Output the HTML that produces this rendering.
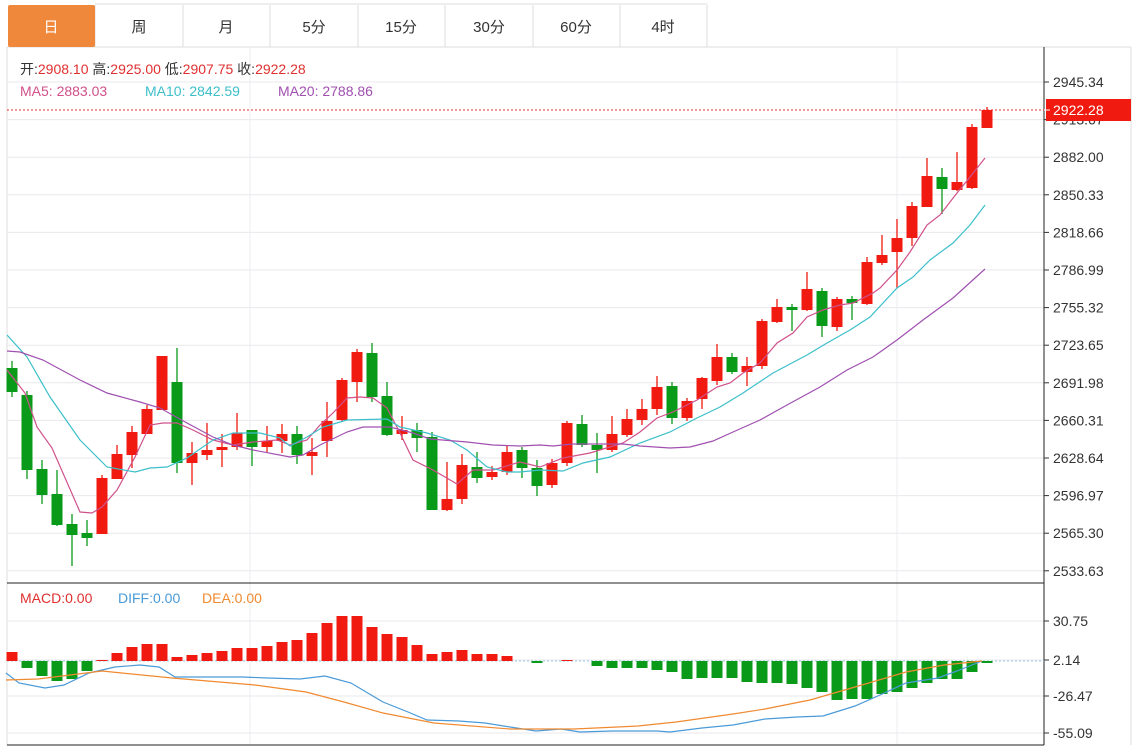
<!DOCTYPE html>
<html><head><meta charset="utf-8">
<style>
body{margin:0;background:#fff;width:1142px;height:749px;overflow:hidden;font-family:"Liberation Sans","Noto Sans CJK SC",sans-serif;}
svg{position:absolute;left:0;top:0}
</style></head><body>
<svg id="s" width="1142" height="749" xmlns="http://www.w3.org/2000/svg" font-family="Liberation Sans, Noto Sans CJK SC, sans-serif">
<rect x="0" y="0" width="1142" height="749" fill="#fff"/>
<!-- tabs -->
<g stroke="#dcdcdc" fill="none">
<line x1="7" y1="47" x2="1131" y2="47"/>
<line x1="95" y1="5" x2="95" y2="47"/><line x1="183" y1="5" x2="183" y2="47"/><line x1="270" y1="5" x2="270" y2="47"/>
<line x1="358" y1="5" x2="358" y2="47"/><line x1="445" y1="5" x2="445" y2="47"/><line x1="533" y1="5" x2="533" y2="47"/>
<line x1="620" y1="5" x2="620" y2="47"/><line x1="707" y1="5" x2="707" y2="47"/>
<line x1="95" y1="4" x2="707" y2="4"/>
<line x1="7" y1="47" x2="7" y2="745"/><line x1="1131" y1="47" x2="1131" y2="745"/>
</g>
<rect x="8" y="5" width="87" height="42" rx="2" fill="#f0883c"/>
<g font-size="15" fill="#333" text-anchor="middle">
<text x="51" y="32" fill="#fff">日</text><text x="139" y="32">周</text><text x="226" y="32">月</text>
<text x="314" y="32">5分</text><text x="401" y="32">15分</text><text x="489" y="32">30分</text>
<text x="576" y="32">60分</text><text x="663" y="32">4时</text>
</g>
<!-- grid -->
<g id="grid" stroke="#e8e8ee" stroke-width="1"></g>
<line x1="250" y1="47" x2="250" y2="745" stroke="#e8ecf0"/>
<line x1="897" y1="47" x2="897" y2="745" stroke="#e8ecf0"/>
<line x1="7" y1="583" x2="1044" y2="583" stroke="#222"/>
<line x1="7" y1="745" x2="1044" y2="745" stroke="#222"/>
<line x1="1044" y1="47" x2="1044" y2="745" stroke="#222"/>
<!-- header text -->
<g font-size="14">
<text x="20" y="74" fill="#333">开:<tspan fill="#e03030">2908.10</tspan>  高:<tspan fill="#e03030">2925.00</tspan>  低:<tspan fill="#e03030">2907.75</tspan>  收:<tspan fill="#e03030">2922.28</tspan></text>
<text x="20" y="96" fill="#d0508a">MA5: 2883.03</text>
<text x="145" y="96" fill="#3cbfca">MA10: 2842.59</text>
<text x="278" y="96" fill="#a050b0">MA20: 2788.86</text>
<text x="20" y="603" fill="#e03030">MACD:0.00</text>
<text x="118" y="603" fill="#4a9ad8">DIFF:0.00</text>
<text x="202" y="603" fill="#f08a30">DEA:0.00</text>
</g>
<g id="axis" font-size="14" fill="#333"></g>
<line x1="7" y1="110" x2="1044" y2="110" stroke="#e03030" stroke-dasharray="2,2"/>
<line x1="7" y1="661" x2="1044" y2="661" stroke="#9cc8e8" stroke-dasharray="2,2"/>
<g id="c"></g>
<polyline fill="none" stroke="#d0508a" stroke-width="1.2" points="7,370 25,393 37,427 52,448 80,512 92,513 102,507 117,490 135,457 150,425 163,423 177,423 193,430 213,440 233,445 253,442 277,440 290,445 307,440 320,425 333,413 347,398 360,397 373,398 387,408 400,433 413,460 433,470 457,484 473,470 493,470 520,462 540,467 563,458 590,453 623,443 640,432 657,418 673,412 697,400 717,387 730,383 743,373 760,363 777,343 793,333 807,317 823,310 840,305 853,303 873,293 880,288 897,270 910,252 927,225 940,215 957,193 970,177 985,158"/>
<polyline fill="none" stroke="#3cbfca" stroke-width="1.2" points="7,335 27,357 50,397 80,440 107,467 135,472 150,468 167,467 187,458 213,440 233,433 260,433 280,438 290,446 307,437 323,427 347,420 387,419 400,427 427,433 450,440 467,450 487,467 507,472 520,472 540,470 563,471 583,463 610,457 640,443 670,432 697,418 720,407 743,393 773,373 807,355 827,343 850,330 870,317 897,288 913,277 930,260 953,243 970,225 985,205"/>
<polyline fill="none" stroke="#a050b0" stroke-width="1.2" points="7,351 20,352 43,360 80,380 107,393 140,402 160,408 187,423 213,437 233,445 253,450 290,457 303,455 320,445 347,432 363,427 390,427 413,433 430,439 467,442 493,445 520,446 540,445 553,446 573,444 623,444 640,446 670,448 690,447 713,441 733,432 760,420 787,405 820,387 847,370 873,357 897,340 923,320 953,298 985,269"/>
<polyline fill="none" stroke="#4a9ad8" stroke-width="1.2" points="6,673 19,683 45,688 64,685 89,673 115,667 140,665 159,667 175,677 242,677 268,678 300,679 325,676 351,683 383,702 408,712 427,720 459,721 485,723 510,727 536,731 561,729 580,732 612,731 657,731 670,732 702,728 733,725 765,719 797,717 823,716 855,706 880,695 906,683 938,678 957,671 982,661"/>
<polyline fill="none" stroke="#f08a30" stroke-width="1.2" points="6,680 38,679 102,671 172,678 255,685 306,692 344,702 383,713 434,723 510,729 574,729 638,726 676,722 733,714 765,709 810,700 855,687 906,672 944,665 982,661"/>
<rect x="1046" y="99" width="85" height="22" fill="#f01a10"/>
<line x1="1044" y1="110" x2="1050" y2="110" stroke="#fff"/>
<text x="1053" y="115" font-size="14" fill="#fff">2922.28</text>
</svg>
<script>
var NS="http://www.w3.org/2000/svg",g=document.getElementById('grid'),ax=document.getElementById('axis'),cg=document.getElementById('c');
function el(p,t,a){var e=document.createElementNS(NS,t);for(var k in a)e.setAttribute(k,a[k]);p.appendChild(e);return e;}
var labs=["2945.34","2913.67","2882.00","2850.33","2818.66","2786.99","2755.32","2723.65","2691.98","2660.31","2628.64","2596.97","2565.30","2533.63"];
for(var i=0;i<labs.length;i++){var y=82+i*37.6;el(g,'line',{x1:7,y1:y,x2:1044,y2:y});el(ax,'line',{x1:1044,y1:y,x2:1049,y2:y,stroke:'#333'});
if(i!=1){var t=el(ax,'text',{x:1053,y:y+5});t.textContent=labs[i];}else{var t=el(ax,'text',{x:1053,y:y+5});t.textContent=labs[i];}}
var ml=[["30.75",621],["2.14",660],["-26.47",696],["-55.09",733]];
ml.forEach(function(m){el(g,'line',{x1:7,y1:m[1],x2:1044,y2:m[1]});el(ax,'line',{x1:1044,y1:m[1],x2:1049,y2:m[1],stroke:'#333'});var t=el(ax,'text',{x:1053,y:m[1]+5});t.textContent=m[0];});
// candles: [type, bodyTop, bodyBot, high, low]
var C=[["g",368,392,361,397],["g",395,470,391,479],["g",469,495,460,504],["g",494,525,470,526],["g",524,535,514,566],["g",533,538,520,546],["r",478,534,475,534],["r",454,479,445,479],["r",432,455,426,468],["r",409,434,405,434],["r",356,410,356,410],["g",382,463,348,473],["r",453,463,442,485],["r",450,455,423,460],["r",447,450,434,467],["r",433,447,413,450],["g",430,447,430,466],["r",441,447,426,452],["r",434,441,424,453],["g",434,455,426,464],["r",452,456,438,475],["r",421,441,402,457],["r",380,420,378,421],["r",352,382,349,402],["g",353,397,343,402],["g",396,435,382,436],["r",430,434,416,440],["g",430,438,423,452],["g",437,510,432,510],["r",499,510,462,511],["r",465,499,454,504],["g",467,478,452,483],["r",472,477,466,480],["r",452,472,446,475],["g",450,468,447,478],["g",468,486,460,496],["r",463,485,459,488],["r",423,463,421,466],["g",424,445,415,447],["g",445,450,433,473],["r",434,450,416,452],["r",419,435,409,437],["r",409,420,399,425],["r",387,409,376,415],["g",386,418,382,424],["r",401,418,398,421],["r",378,399,377,409],["r",357,381,344,385],["g",357,372,353,374],["r",366,372,357,386],["r",321,366,319,369],["r",307,322,299,323],["g",307,310,304,331],["r",289,310,272,311],["g",291,326,288,337],["r",299,327,297,331],["g",299,303,296,320],["r",262,304,257,305],["r",255,263,235,265],["r",238,252,219,288],["r",206,238,202,246],["r",176,207,158,207],["g",177,189,168,214],["r",182,190,152,191],["r",127,188,124,189],["r",110,128,107,128]];
C.forEach(function(c,i){var x=12+i*15.0;var col=c[0]=="r"?"#f01a10":"#0a9a1a";
el(cg,'line',{x1:x,y1:c[3],x2:x,y2:c[4],stroke:col,'stroke-width':1.3});
el(cg,'rect',{x:x-5.5,y:c[1],width:11,height:Math.max(2,c[2]-c[1]),fill:col});});
// macd bars: y value (zero 661)
var B=[652,668,676,681,679,671,660,653,647,644,644,657,655,653,651,648,648,646,642,640,633,623,616,616,627,634,637,645,654,652,650,654,654,656,661,663,661,660,661,666,668,668,668,670,672,679,678,678,678,682,683,683,684,688,692,700,699,699,694,692,688,683,679,679,672,663];
B.forEach(function(v,i){var x=12+i*15.0;if(Math.abs(v-661)<1)return;var top=Math.min(v,661),h=Math.abs(v-661);
el(cg,'rect',{x:x-5.5,y:top,width:11,height:h,fill:v<661?"#f01a10":"#0a9a1a"});});
</script>
</body></html>
